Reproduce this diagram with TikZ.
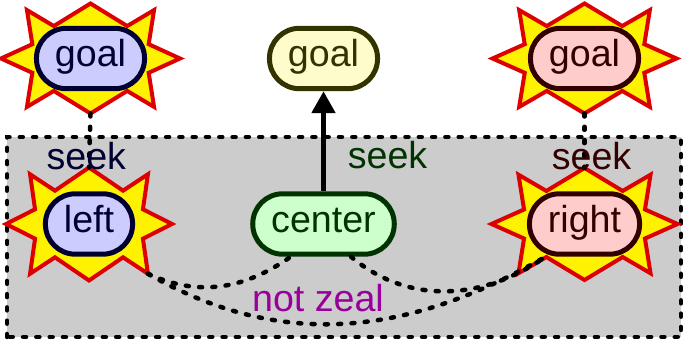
\documentclass[tikz,border=0pt]{standalone}
\usepackage{fontspec}
\setmainfont{Liberation Sans}
\usetikzlibrary{arrows.meta}

\definecolor{sunred}{HTML}{DD0000}
\definecolor{boxgray}{HTML}{CCCCCC}
\definecolor{navy}{HTML}{000033}
\definecolor{dkgreen}{HTML}{003300}
\definecolor{dkred}{HTML}{330000}
\definecolor{olive}{HTML}{333300}
\definecolor{zealpurple}{HTML}{990099}

\tikzset{
  pill/.style={draw, rounded corners=0.3cm, line width=0.05cm, minimum height=0.59cm,
    inner xsep=0.185cm, text height=0.27cm, text depth=0.10cm},
  bluepill/.style={pill, fill=blue!20, draw=navy, text=navy},
  redpill/.style={pill, fill=red!20, draw=dkred, text=dkred},
  yellowpill/.style={pill, fill=yellow!20, draw=olive, text=olive},
  greenpill/.style={pill, fill=green!20, draw=dkgreen, text=dkgreen},
  burst/.style={fill=yellow, draw=sunred, line width=0.04cm, line join=miter},
  dotline/.style={line width=0.045cm, dash pattern=on 0.03cm off 0.103cm, line cap=round},
  lbl/.style={inner sep=0pt},
}

% 8-point burst stretched to rx/ry, tips named #1-n, #1-se, ...
\newcommand\burst[4]{%
  \begin{scope}[shift={(#2)},xscale=#3,yscale=#4]
    \coordinate (#1) at (0,0);
    \draw[burst] (1,0) coordinate (#1-e) -- (.65,.26) -- (.71,.88) coordinate (#1-ne)
      -- (.41,.59) -- (0,1) coordinate (#1-n) -- (-.41,.59) -- (-.71,.88) coordinate (#1-nw)
      -- (-.65,.26) -- (-1,0) coordinate (#1-w) -- (-.65,-.26) -- (-.71,-.88) coordinate (#1-sw)
      -- (-.41,-.59) -- (0,-1) coordinate (#1-s) -- (.41,-.59) -- (.71,-.88) coordinate (#1-se)
      -- (.65,-.26) -- cycle;
  \end{scope}}

\begin{document}
\begin{tikzpicture}[every node/.style={font=\fontsize{10.7}{12}\selectfont}]
\useasboundingbox (0,0) rectangle (6.88,3.44);
\draw[dotline, fill=boxgray] (0.07,0.07) rectangle (6.81,2.07);

% the four bursts
\burst{sunGL}{0.905,2.855}{0.895}{0.55}
\burst{sunL}{0.89,1.20}{0.83}{0.565}
\burst{sunGR}{5.845,2.855}{0.92}{0.55}
\burst{sunR}{5.845,1.20}{0.93}{0.56}

\node[bluepill] (goalL) at (sunGL) {goal};
\node[bluepill] (lft) at (sunL) {left};
\node[yellowpill] (goalC) at (3.235,2.855) {goal};
\node[greenpill] (ctr) at (3.235,1.20) {center};
\node[redpill] (goalR) at (sunGR) {goal};
\node[redpill] (rgt) at (sunR) {right};

\draw[dotline] (sunGL-s) -- (sunL-n) node[lbl, text=navy, pos=.78, xshift=-0.03cm] (seekL) {seek};
\draw[dotline] (sunGR-s) -- (sunR-n) node[lbl, text=dkred, pos=.78, xshift=0.07cm] (seekR) {seek};
\draw[-{Triangle[length=0.22cm,width=0.23cm]}, line width=0.05cm] (ctr) -- (goalC)
  node[lbl, text=dkgreen, pos=.36, xshift=0.64cm] (seekC) {seek};

% the not-zeal links
\draw[dotline] (sunL-se) to[out=-25,in=-145] (ctr.-135);
\draw[dotline] (ctr.-50) to[out=-40,in=-145] (rgt.-140);
\draw[dotline] (sunL-se) to[out=-30,in=-150] (rgt.-140);
\node[lbl, text=zealpurple] (zeal) at (3.18,0.46) {not zeal};
\end{tikzpicture}
\end{document}
